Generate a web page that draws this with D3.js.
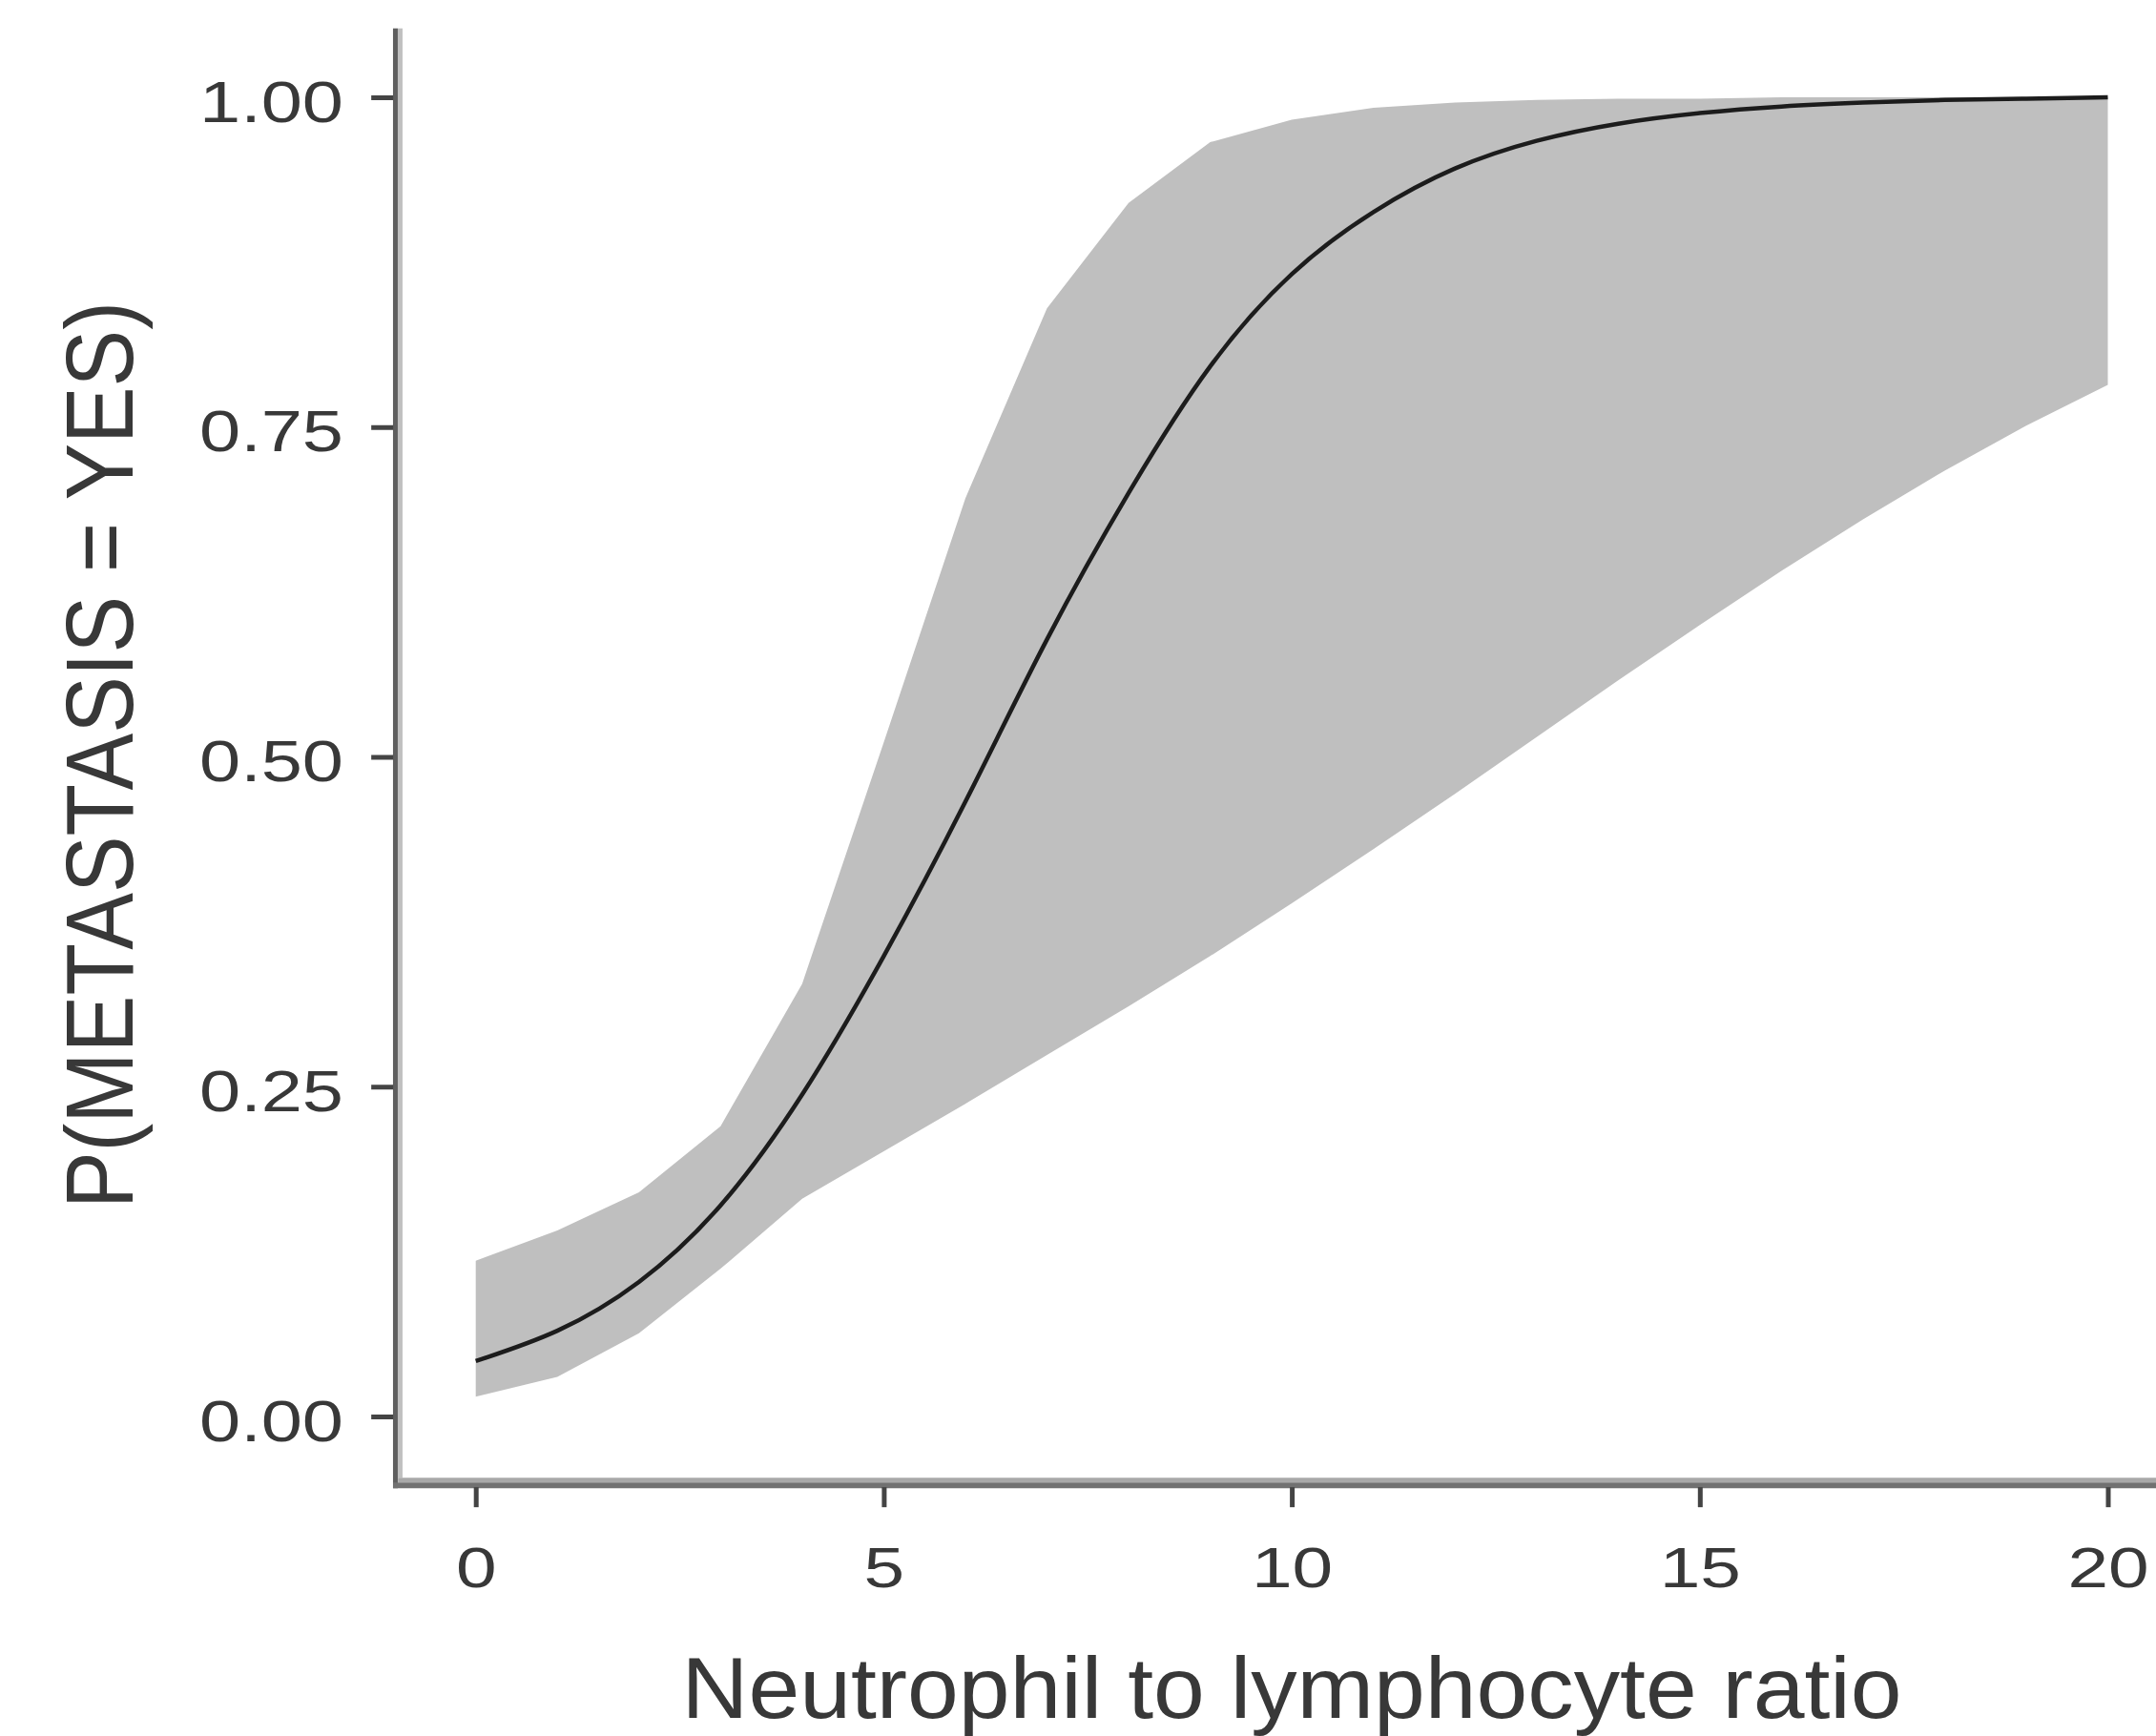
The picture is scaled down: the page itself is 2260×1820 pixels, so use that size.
<!DOCTYPE html>
<html>
<head>
<meta charset="utf-8">
<script src="https://cdn.jsdelivr.net/npm/d3@7/dist/d3.min.js"></script>
<style>
  html, body { margin: 0; padding: 0; background: #ffffff; }
  svg { display: block; }
  text { font-family: "Liberation Sans", Arial, Helvetica, sans-serif; }
</style>
</head>
<body>
<script>
// ---- data ----
const nlr = [0,1,2,3,4,5,6,7,8,9,10,11,12,13,14,15,16,17,18,19,20];
const fitProb = [0.042,0.065,0.102,0.160,0.244,0.349,0.466,0.589,0.700,0.796,0.866,0.913,0.946,0.967,0.980,0.988,0.993,0.996,0.998,0.999,1.000];
const upperCI = [0.118,0.141,0.170,0.220,0.328,0.511,0.696,0.840,0.920,0.966,0.983,0.992,0.996,0.998,0.999,0.999,1.000,1.000,1.000,1.000,1.000];
const lowerCI = [0.015,0.030,0.063,0.112,0.165,0.201,0.237,0.274,0.311,0.349,0.389,0.430,0.472,0.515,0.558,0.600,0.641,0.680,0.717,0.751,0.782];
const xTicks = [0,5,10,15,20];
const xTickLabels = ["0","5","10","15","20"];
const yTicks = [0,0.25,0.5,0.75,1];
const yTickLabels = ["0.00","0.25","0.50","0.75","1.00"];
const xTitle = "Neutrophil to lymphocyte ratio";
const yTitle = "P(METASTASIS = YES)";

const W = 2260, H = 1820;
const svg = d3.select("body").append("svg").attr("width", W).attr("height", H);

const x = d3.scaleLinear().domain([0, 20]).range([498.7, 2209.5]);
const y = d3.scaleLinear().domain([0, 1]).range([1485, 102]);

const rows = nlr.map((v, i) => ({x: v, fit: fitProb[i], lo: lowerCI[i], hi: upperCI[i]}));

// ribbon
const area = d3.area().x(d => x(d.x)).y0(d => y(d.lo)).y1(d => y(d.hi));
svg.append("path").datum(rows).attr("d", area).attr("fill", "#bfbfbf");

// fitted line
const line = d3.line().x(d => x(d.x)).y(d => y(d.fit)).curve(d3.curveNatural);
svg.append("path").datum(rows).attr("d", line)
  .attr("fill", "none").attr("stroke", "#1c1c1c").attr("stroke-width", 4.5);

// axis lines (panel extends 5% beyond data range)
const xLeft = x(-1), yBottom = y(-0.05), yTop = y(1.05);
// y axis line
svg.append("line").attr("x1", xLeft + 6.3).attr("x2", xLeft + 6.3).attr("y1", yTop - 3).attr("y2", yBottom - 5)
  .attr("stroke", "#c0c0c0").attr("stroke-width", 5);
svg.append("line").attr("x1", xLeft + 1.3).attr("x2", xLeft + 1.3).attr("y1", yTop - 3).attr("y2", yBottom + 6)
  .attr("stroke", "#5f5f5f").attr("stroke-width", 5);
// x axis line
svg.append("line").attr("x1", xLeft + 4).attr("x2", W).attr("y1", yBottom - 2.5).attr("y2", yBottom - 2.5)
  .attr("stroke", "#a8a8a8").attr("stroke-width", 5);
svg.append("line").attr("x1", xLeft - 1).attr("x2", W).attr("y1", yBottom + 3).attr("y2", yBottom + 3)
  .attr("stroke", "#717171").attr("stroke-width", 6);

// y axis ticks and labels
const yAxisG = svg.append("g").attr("transform", `translate(${xLeft - 1},0)`)
  .call(d3.axisLeft(y).tickValues(yTicks).tickFormat((d, i) => yTickLabels[i]).tickSize(23).tickPadding(10));
yAxisG.select(".domain").remove();
yAxisG.selectAll(".tick line").attr("stroke", "#444").attr("stroke-width", 5);
yAxisG.selectAll(".tick text")
  .attr("x", -(xLeft - 1 - 360)).attr("y", 25).attr("dy", null)
  .attr("text-anchor", "end")
  .attr("font-size", 61).attr("fill", "#383838")
  .attr("textLength", 151).attr("lengthAdjust", "spacingAndGlyphs")
  .style("font-family", "'Liberation Sans', Arial, sans-serif");

// x axis ticks and labels
const xAxisG = svg.append("g").attr("transform", `translate(0,${yBottom + 5})`)
  .call(d3.axisBottom(x).tickValues(xTicks).tickFormat((d, i) => xTickLabels[i]).tickSize(21).tickPadding(10));
xAxisG.select(".domain").remove();
xAxisG.selectAll(".tick line").attr("stroke", "#444").attr("stroke-width", 5);
xAxisG.selectAll(".tick text")
  .attr("y", 1664 - (yBottom + 5)).attr("dy", null)
  .attr("text-anchor", "middle")
  .attr("font-size", 59).attr("fill", "#383838")
  .attr("textLength", (d, i) => xTickLabels[i].length * 42.6).attr("lengthAdjust", "spacingAndGlyphs")
  .style("font-family", "'Liberation Sans', Arial, sans-serif");

// axis titles
svg.append("text")
  .attr("x", (x(-1) + x(21)) / 2).attr("y", 1801)
  .attr("text-anchor", "middle").attr("font-size", 91).attr("fill", "#383838")
  .attr("textLength", 1279).attr("lengthAdjust", "spacingAndGlyphs")
  .text(xTitle);

svg.append("text")
  .attr("transform", `translate(139,${(y(-0.05) + y(1.05)) / 2 - 2}) rotate(-90)`)
  .attr("text-anchor", "middle").attr("font-size", 100).attr("fill", "#383838")
  .attr("textLength", 951).attr("lengthAdjust", "spacingAndGlyphs")
  .text(yTitle);
</script>
</body>
</html>
